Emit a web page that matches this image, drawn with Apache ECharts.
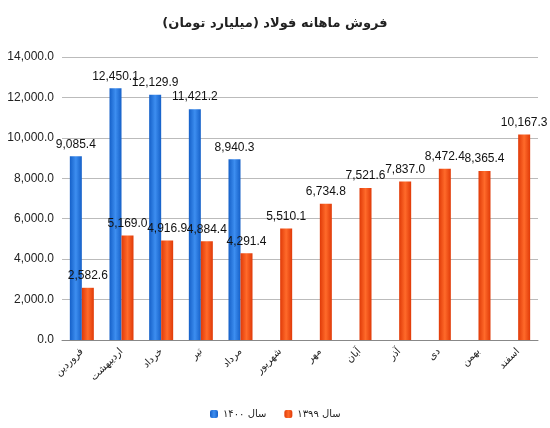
<!DOCTYPE html>
<html>
<head>
<meta charset="utf-8">
<script src="https://cdn.jsdelivr.net/npm/echarts@6/dist/echarts.min.js"></script>
<style>html,body{margin:0;padding:0;background:#fff;}#main{width:550px;height:428px;}</style>
</head>
<body>
<div id="main"></div>
<script>
// داده ها
var months = ['فروردین', 'اردیبهشت', 'خرداد', 'تیر', 'مرداد', 'شهریور', 'مهر', 'آبان', 'آذر', 'دی', 'بهمن', 'اسفند'];
var sales1400 = [9085.4, 12450.1, 12129.9, 11421.2, 8940.3, null, null, null, null, null, null, null];
var sales1399 = [2582.6, 5169.0, 4916.9, 4884.4, 4291.4, 5510.1, 6734.8, 7521.6, 7837.0, 8472.4, 8365.4, 10167.3];
var yTicks = [0, 2000, 4000, 6000, 8000, 10000, 12000, 14000];

var myChart = echarts.init(document.getElementById('main'));
function grad(c1, c2) {
	return new echarts.graphic.LinearGradient(0, 0, 1, 0, [
		{ offset: 0, color: c1 }, { offset: 0.5, color: c2 }, { offset: 1, color: c1 }
	]);
}
function fmt(v) {
	return Number(v.value).toLocaleString('en-US', { minimumFractionDigits: 1, maximumFractionDigits: 1 });
}
var option = {
	backgroundColor: '#fff',
	textStyle: { fontFamily: 'Liberation Sans' },
	title: {
		text: 'فروش ماهانه فولاد (میلیارد تومان)',
		left: 'center',
		top: 12,
		textStyle: { fontSize: 13, fontWeight: 'bold', color: '#222', fontFamily: 'DejaVu Sans' }
	},
	legend: {
		bottom: 4,
		left: 205,
		itemWidth: 8,
		itemHeight: 8,
		itemGap: 18,
		textStyle: { fontSize: 10, color: '#222', fontFamily: 'DejaVu Sans' },
		data: ['سال ۱۴۰۰', 'سال ۱۳۹۹']
	},
	grid: { left: 62, right: 12, top: 57, bottom: 88 },
	xAxis: {
		type: 'category',
		data: months,
		axisLine: { lineStyle: { color: '#888' } },
		axisTick: { show: false },
		axisLabel: { rotate: 45, interval: 0, fontSize: 10, color: '#222', margin: 10, fontFamily: 'DejaVu Sans' }
	},
	yAxis: {
		type: 'value',
		min: yTicks[0],
		max: yTicks[yTicks.length - 1],
		interval: 2000,
		axisLabel: { fontSize: 12, color: '#222', formatter: function(v) {
			return v.toLocaleString('en-US', { minimumFractionDigits: 1 });
		} },
		splitLine: { lineStyle: { color: '#bbb' } }
	},
	series: [{
		name: 'سال ۱۴۰۰',
		type: 'bar',
		data: sales1400,
		barWidth: 12,
		barGap: '0%',
		itemStyle: { color: grad('#1560c8', '#3d8ef0') },
		label: { show: true, position: 'top', distance: 6, fontSize: 12, color: '#111', formatter: fmt }
	}, {
		name: 'سال ۱۳۹۹',
		type: 'bar',
		data: sales1399,
		barWidth: 12,
		itemStyle: { color: grad('#e03a08', '#ff6a2a') },
		label: { show: true, position: 'top', distance: 6, fontSize: 12, color: '#111', formatter: fmt }
	}]
};
myChart.setOption(option);
</script>
</body>
</html>
